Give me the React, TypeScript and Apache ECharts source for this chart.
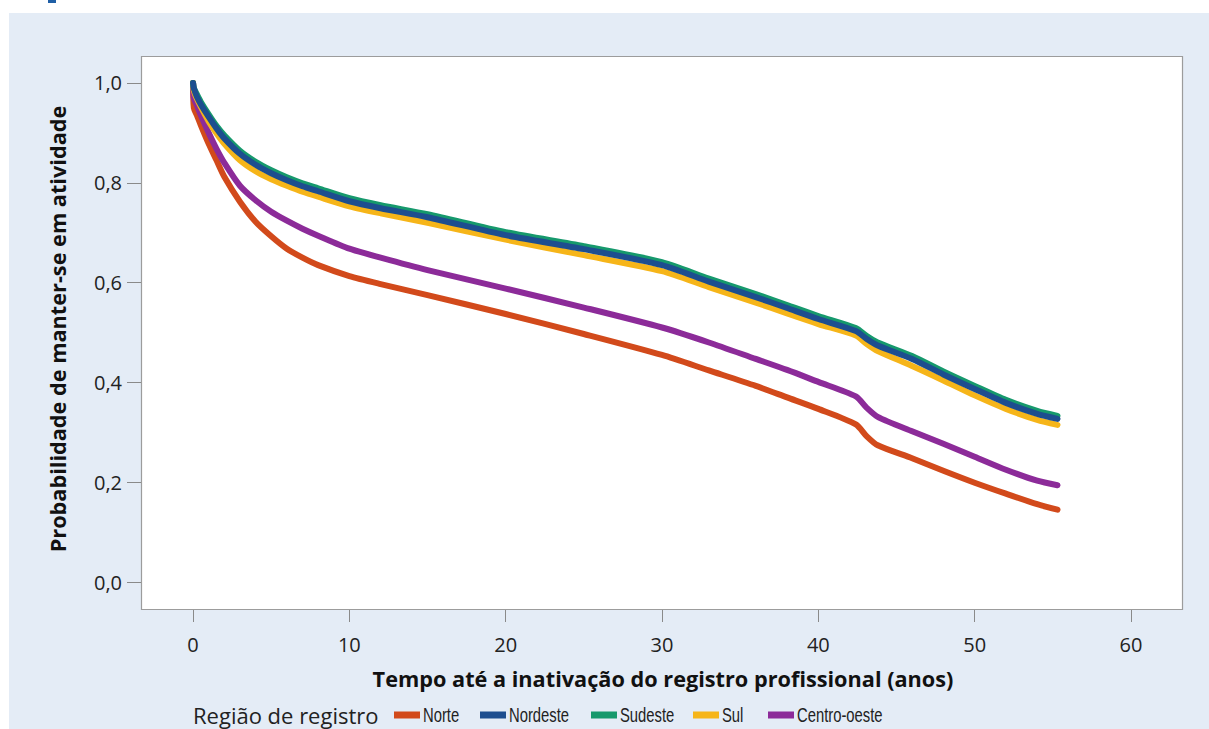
import React, { useEffect, useRef } from "react";
import * as echarts from "echarts";

const years = [0, 0.05, 0.25, 0.5, 1, 1.5, 2, 3, 4, 5, 6, 7, 8, 10, 12, 15, 20, 25, 30, 33, 36, 38, 40, 42.4, 43.1, 43.8, 46, 48, 50, 52, 54, 55.3];
const norte = [1.0, 0.95, 0.935, 0.915, 0.878, 0.845, 0.812, 0.762, 0.722, 0.693, 0.668, 0.65, 0.635, 0.613, 0.597, 0.575, 0.537, 0.497, 0.455, 0.424, 0.393, 0.37, 0.347, 0.316, 0.292, 0.274, 0.248, 0.223, 0.199, 0.177, 0.156, 0.145];
const nordeste = [1.0, 0.99, 0.972, 0.957, 0.932, 0.909, 0.889, 0.858, 0.836, 0.819, 0.805, 0.793, 0.783, 0.763, 0.749, 0.731, 0.695, 0.667, 0.635, 0.602, 0.571, 0.549, 0.527, 0.503, 0.487, 0.474, 0.447, 0.416, 0.387, 0.359, 0.337, 0.327];
const sudeste = [1.0, 0.99, 0.977, 0.962, 0.937, 0.914, 0.895, 0.864, 0.842, 0.825, 0.811, 0.799, 0.789, 0.769, 0.755, 0.737, 0.701, 0.673, 0.641, 0.608, 0.577, 0.555, 0.533, 0.509, 0.493, 0.48, 0.453, 0.422, 0.393, 0.365, 0.343, 0.333];
const sul = [1.0, 0.985, 0.968, 0.952, 0.923, 0.899, 0.878, 0.845, 0.823, 0.807, 0.794, 0.782, 0.772, 0.753, 0.739, 0.72, 0.686, 0.655, 0.623, 0.591, 0.56, 0.538, 0.517, 0.494, 0.477, 0.463, 0.433, 0.404, 0.374, 0.347, 0.325, 0.315];
const centroOeste = [1.0, 0.97, 0.955, 0.935, 0.9, 0.868, 0.84, 0.794, 0.765, 0.742, 0.724, 0.708, 0.694, 0.668, 0.65, 0.625, 0.588, 0.55, 0.51, 0.48, 0.447, 0.425, 0.401, 0.372, 0.349, 0.331, 0.302, 0.277, 0.251, 0.225, 0.203, 0.194];

const xTicks = [0, 10, 20, 30, 40, 50, 60];
const yTicks = [0, 0.2, 0.4, 0.6, 0.8, 1.0];
const xRange = [-3.33, 63.33];
const yRange = [-0.056, 1.052];

const seriesDefs = [
  { name: "Norte", values: norte, color: "#d24a1b" },
  { name: "Centro-oeste", values: centroOeste, color: "#8c2b99" },
  { name: "Sul", values: sul, color: "#f6b519" },
  { name: "Sudeste", values: sudeste, color: "#16996c" },
  { name: "Nordeste", values: nordeste, color: "#1d4e8f" },
];
const legendOrder = ["Norte", "Nordeste", "Sudeste", "Sul", "Centro-oeste"];
const legendSwatchX = [394, 480, 591, 693, 768];

const MAIN_FONT = "'Open Sans', 'Noto Sans', sans-serif";
const LEGEND_FONT = "'Liberation Sans', Arial, sans-serif";

export default function App() {
  const ref = useRef<HTMLDivElement>(null);
  useEffect(() => {
    if (!ref.current) return;
    const chart = echarts.init(ref.current, null, { renderer: "svg" });
    const legendGraphics: any[] = [];
    legendOrder.forEach((name, i) => {
      const def = seriesDefs.find((s) => s.name === name)!;
      const x = legendSwatchX[i];
      legendGraphics.push({ type: "rect", shape: { x, y: 711.5, width: 26, height: 7 }, style: { fill: def.color } });
      legendGraphics.push({
        type: "text", x: x + 29, y: 715, scaleX: 0.76,
        style: { text: name, font: `19.5px ${LEGEND_FONT}`, fill: "#222", align: "left", verticalAlign: "middle" },
      });
    });
    const option: any = {
      animation: false,
      backgroundColor: "#ffffff",
      graphic: [
        { type: "rect", z: -10, shape: { x: 9, y: 13, width: 1200, height: 716 }, style: { fill: "#e4ecf6" } },
        { type: "rect", z: -10, shape: { x: 48, y: 0, width: 8, height: 3 }, style: { fill: "#1f5fa6" } },
        { type: "rect", z: -9, shape: { x: 141.5, y: 56.5, width: 1041, height: 553 }, style: { fill: "#ffffff", stroke: "#9c9c9c", lineWidth: 1.2 } },
        {
          type: "text", x: 663, y: 678,
          style: { text: "Tempo até a inativação do registro profissional (anos)", font: `bold 21.7px ${MAIN_FONT}`, fill: "#111", align: "center", verticalAlign: "middle" },
        },
        {
          type: "text", x: 57, y: 329, rotation: Math.PI / 2,
          style: { text: "Probabilidade de manter-se em atividade", font: `bold 21.7px ${MAIN_FONT}`, fill: "#111", align: "center", verticalAlign: "middle" },
        },
        {
          type: "text", x: 193, y: 715,
          style: { text: "Região de registro", font: `22px ${MAIN_FONT}`, fill: "#222", align: "left", verticalAlign: "middle" },
        },
        ...legendGraphics,
      ],
      grid: { left: 141, right: 26, top: 57, bottom: 119, containLabel: false },
      xAxis: {
        type: "value",
        min: xRange[0],
        max: xRange[1],
        axisLine: { show: false, onZero: false },
        axisTick: { show: true, length: 12, customValues: xTicks, lineStyle: { color: "#8a8a8a", width: 1 } },
        splitLine: { show: false },
        axisLabel: { margin: 24, fontFamily: MAIN_FONT, fontSize: 20, color: "#222", customValues: xTicks },
      },
      yAxis: {
        type: "value",
        min: yRange[0],
        max: yRange[1],
        axisLine: { show: false, onZero: false },
        axisTick: { show: true, length: 14, customValues: yTicks, lineStyle: { color: "#8a8a8a", width: 1 } },
        splitLine: { show: false },
        axisLabel: {
          margin: 19,
          fontFamily: MAIN_FONT,
          fontSize: 20,
          color: "#222",
          customValues: yTicks,
          formatter: (v: number) => v.toFixed(1).replace(".", ","),
        },
      },
      series: seriesDefs.map((s) => ({
        name: s.name,
        type: "line",
        showSymbol: false,
        clip: false,
        smooth: 0.25,
        color: s.color,
        lineStyle: { width: 6, color: s.color, cap: "round", join: "round" },
        data: years.map((t, i) => [t, s.values[i]]),
      })),
    };
    chart.setOption(option);
    return () => chart.dispose();
  }, []);
  return <div ref={ref} style={{ position: "fixed", left: 0, top: 0, width: 1209, height: 729 }} />;
}
